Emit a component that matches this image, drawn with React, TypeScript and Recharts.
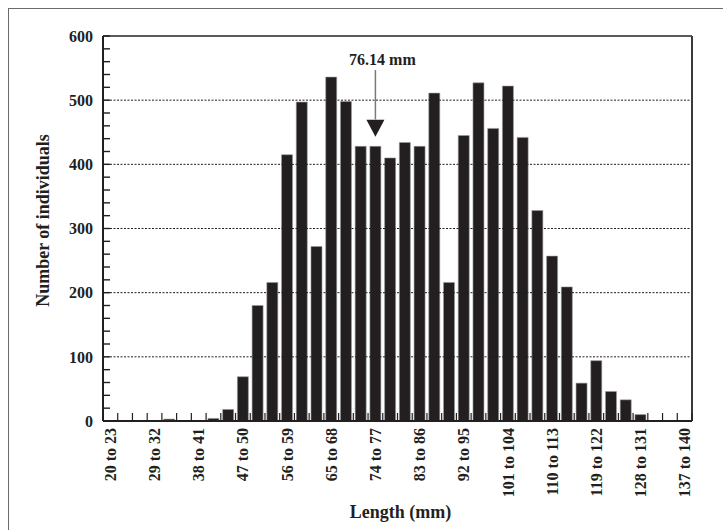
import React from 'react';
import { BarChart, Bar, XAxis, YAxis, ReferenceLine, ReferenceDot, Label } from 'recharts';

const categories = [
  '20 to 23', '23 to 26', '26 to 29', '29 to 32', '32 to 35', '35 to 38', '38 to 41', '41 to 44',
  '44 to 47', '47 to 50', '50 to 53', '53 to 56', '56 to 59', '59 to 62', '62 to 65', '65 to 68',
  '68 to 71', '71 to 74', '74 to 77', '77 to 80', '80 to 83', '83 to 86', '86 to 89', '89 to 92',
  '92 to 95', '95 to 98', '98 to 101', '101 to 104', '104 to 107', '107 to 110', '110 to 113',
  '113 to 116', '116 to 119', '119 to 122', '122 to 125', '125 to 128', '128 to 131', '131 to 134',
  '134 to 137', '137 to 140',
];

const counts = [
  0, 0, 0, 0, 3, 0, 0, 4, 18, 69,
  180, 216, 415, 497, 272, 536, 498, 428, 428, 410,
  434, 428, 511, 216, 445, 527, 456, 522, 442, 328,
  257, 209, 59, 94, 46, 33, 10, 0, 0, 0,
];

const yTicks = [
  0, 20, 40, 60, 80, 100, 120, 140, 160, 180, 200, 220, 240, 260, 280, 300,
  320, 340, 360, 380, 400, 420, 440, 460, 480, 500, 520, 540, 560, 580, 600,
];
const gridValues = [100, 200, 300, 400, 500];

const meanBin = '74 to 77';
const meanText = '76.14 mm';
const arrowTop = 547;
const arrowBase = 470;
const arrowTip = 443;
const meanTextY = 555;

const xTitle = 'Length (mm)';
const yTitle = 'Number of individuals';

const data = categories.map((bin, i) => ({ bin, n: counts[i] }));

const W = 723;
const H = 530;
const Y_AXIS_W = 103;
const RIGHT_W = 31;
const TOP_H = 36;
const X_AXIS_H = 109;
const PLOT_W = W - Y_AXIS_W - RIGHT_W;
const BAND = PLOT_W / categories.length;

const FONT = '"Liberation Serif", "Times New Roman", serif';
const INK = '#231f20';

const YTick = (props: any) => {
  const { x, y, payload } = props;
  const ax = x + 10;
  const major = payload.value % 100 === 0;
  return (
    <g>
      <rect x={ax} y={y - 0.7} width={7} height={1.4} fill={INK} />
      {major && (
        <text x={x} y={y} dy="0.355em" textAnchor="end" fontSize={16} fontWeight="bold" fill={INK} fontFamily={FONT}>
          {payload.value}
        </text>
      )}
    </g>
  );
};

const XTick = (props: any) => {
  const { x, y, payload } = props;
  const index = typeof props.index === 'number' ? props.index : categories.indexOf(payload.value);
  const ay = y - 7;
  const left = x - BAND / 2;
  const right = x + BAND / 2;
  return (
    <g>
      <line x1={left} x2={left} y1={ay} y2={ay - 8} stroke={INK} strokeWidth={1.2} />
      {index === categories.length - 1 && (
        <line x1={right} x2={right} y1={ay} y2={ay - 8} stroke={INK} strokeWidth={1.2} />
      )}
      {index % 3 === 0 && (
        <text
          transform={`rotate(-90 ${x} ${y})`}
          x={x}
          y={y}
          dy="0.35em"
          textAnchor="end"
          fontSize={16}
          fontWeight="bold"
          fill={INK}
          fontFamily={FONT}
        >
          {payload.value}
        </text>
      )}
    </g>
  );
};

const YTitle = (props: any) => {
  const vb = props.viewBox || { x: 0, y: TOP_H, width: Y_AXIS_W, height: 385 };
  const cx = vb.x + 43;
  const cy = vb.y + vb.height / 2 - 8;
  return (
    <text
      transform={`rotate(-90 ${cx} ${cy})`}
      x={cx}
      y={cy}
      dy="0.35em"
      textAnchor="middle"
      fontSize={18}
      fontWeight="bold"
      fill={INK}
      fontFamily={FONT}
    >
      {yTitle}
    </text>
  );
};

const XTitle = (props: any) => {
  const vb = props.viewBox || { x: Y_AXIS_W, y: H - X_AXIS_H, width: PLOT_W, height: X_AXIS_H };
  return (
    <text
      x={vb.x + vb.width / 2 + 3}
      y={vb.y + 97}
      textAnchor="middle"
      fontSize={18}
      fontWeight="bold"
      fill={INK}
      fontFamily={FONT}
    >
      {xTitle}
    </text>
  );
};

const ArrowHead = (props: any) => {
  const { cx, cy } = props;
  return <path d={`M${cx - 9},${cy - 17} L${cx + 9},${cy - 17} L${cx},${cy} Z`} fill={INK} />;
};

const MeanText = (props: any) => {
  const { cx, cy } = props;
  return (
    <text x={cx + 7} y={cy} textAnchor="middle" fontSize={16} fontWeight="bold" fill={INK} fontFamily={FONT}>
      {meanText}
    </text>
  );
};

export default function App() {
  return (
    <div style={{ position: 'absolute', left: 0, top: 0, width: W, height: H, background: '#fff', overflow: 'hidden' }}>
      <div
        style={{
          position: 'absolute',
          left: 8,
          top: 8,
          width: W,
          height: H,
          borderTop: '1.5px solid #6b6b6b',
          borderLeft: '1.5px solid #6b6b6b',
        }}
      />
      <div style={{ position: 'absolute', left: 0, top: 0 }}>
        <BarChart
          width={W}
          height={H}
          data={data}
          margin={{ top: 0, right: 0, bottom: 0, left: 0 }}
          barCategoryGap="12.5%"
        >
          {gridValues.map((v) => (
            <ReferenceLine key={`g${v}`} y={v} stroke={INK} strokeWidth={1} strokeDasharray="2 1.5" />
          ))}
          <XAxis
            dataKey="bin"
            height={X_AXIS_H}
            interval={0}
            tickSize={0}
            tickMargin={7}
            tick={<XTick />}
            axisLine={{ stroke: INK, strokeWidth: 2 }}
            tickLine={false}
          >
            <Label content={<XTitle />} />
          </XAxis>
          <XAxis
            xAxisId="top"
            orientation="top"
            dataKey="bin"
            height={TOP_H}
            tick={false}
            tickLine={false}
            axisLine={{ stroke: '#5a5a5a', strokeWidth: 2 }}
          />
          <YAxis
            width={Y_AXIS_W}
            domain={[0, 600]}
            ticks={yTicks}
            interval={0}
            minTickGap={0}
            tickSize={0}
            tickMargin={10}
            tick={<YTick />}
            tickLine={false}
            axisLine={{ stroke: INK, strokeWidth: 2 }}
          >
            <Label content={<YTitle />} />
          </YAxis>
          <YAxis
            yAxisId="right"
            orientation="right"
            width={RIGHT_W}
            domain={[0, 600]}
            tick={false}
            tickLine={false}
            axisLine={{ stroke: '#3a3a3a', strokeWidth: 2 }}
          />
          <Bar dataKey="n" fill={INK} stroke="#9a9a9a" strokeWidth={0.6} isAnimationActive={false} />
          <ReferenceLine
            segment={[
              { x: meanBin, y: arrowTop },
              { x: meanBin, y: arrowBase },
            ]}
            stroke="#7a7a7a"
            strokeWidth={1.5}
          />
          <ReferenceDot x={meanBin} y={arrowTip} r={0} shape={<ArrowHead />} />
          <ReferenceDot x={meanBin} y={meanTextY} r={0} shape={<MeanText />} />
        </BarChart>
      </div>
    </div>
  );
}
